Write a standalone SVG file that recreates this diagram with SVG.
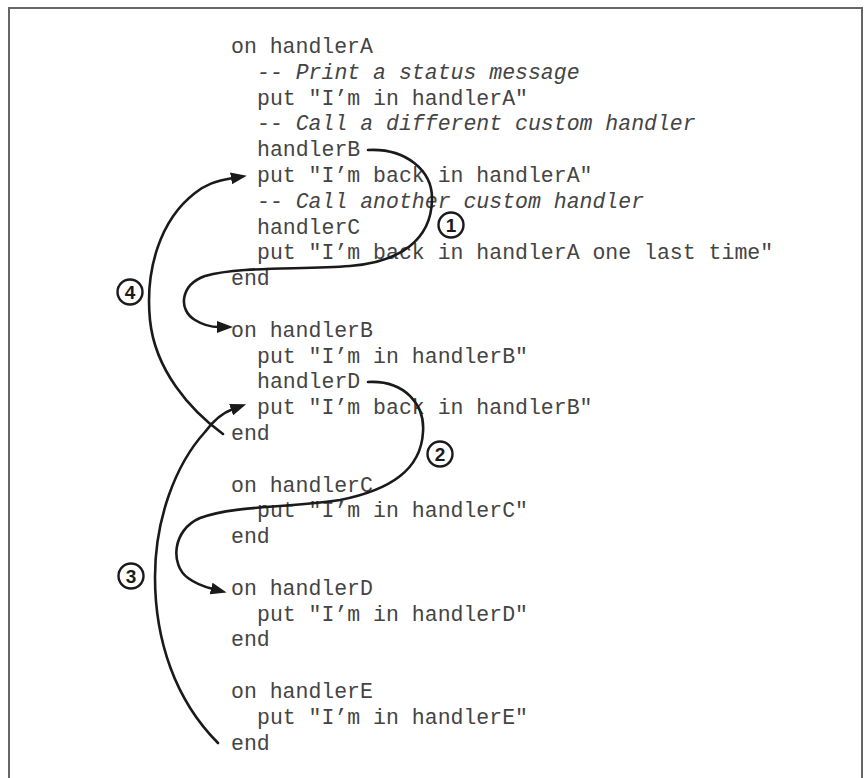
<svg xmlns="http://www.w3.org/2000/svg" width="865" height="778" viewBox="0 0 865 778">
  <style>
    .code { font-family: "Liberation Mono", "Courier New", monospace; font-size: 21.5px; fill: #444; }
    .cmt { font-style: italic; }
    .flow { fill: none; stroke: #1a1a1a; stroke-width: 2.6; stroke-linecap: round; marker-end: url(#head); }
    .badge circle { fill: #fff; stroke: #1a1a1a; stroke-width: 2.4; }
    .badge text { font-family: "Liberation Sans Narrow", "Liberation Sans", Arial, sans-serif; font-weight: bold; font-size: 19px; fill: #1a1a1a; text-anchor: middle; }
  </style>
  <defs>
    <marker id="head" viewBox="0 0 16 12" refX="2" refY="6" markerWidth="16" markerHeight="12" markerUnits="userSpaceOnUse" orient="auto">
      <path d="M0,0 L16,6 L0,12 z" fill="#1a1a1a"/>
    </marker>
  </defs>

  <rect width="865" height="778" fill="#fff"/>
  <!-- frame -->
  <path d="M9,779 V8 H862 V779" fill="none" stroke="#666" stroke-width="2"/>

  <!-- handler listing -->
  <g id="handlerA" class="code">
    <text x="231" y="53">on handlerA</text>
    <text x="257" y="78.8" class="cmt">-- Print a status message</text>
    <text x="257" y="104.6">put "I’m in handlerA"</text>
    <text x="257" y="130.4" class="cmt">-- Call a different custom handler</text>
    <text x="257" y="156.2">handlerB</text>
    <text x="257" y="182">put "I’m back in handlerA"</text>
    <text x="257" y="207.8" class="cmt">-- Call another custom handler</text>
    <text x="257" y="233.6">handlerC</text>
    <text x="257" y="259.4">put "I’m back in handlerA one last time"</text>
    <text x="231" y="285.2">end</text>
  </g>
  <g id="handlerB" class="code">
    <text x="231" y="336.8">on handlerB</text>
    <text x="257" y="362.6">put "I’m in handlerB"</text>
    <text x="257" y="388.4">handlerD</text>
    <text x="257" y="414.2">put "I’m back in handlerB"</text>
    <text x="231" y="440">end</text>
  </g>
  <g id="handlerC" class="code">
    <text x="231" y="491.6">on handlerC</text>
    <text x="257" y="517.4">put "I’m in handlerC"</text>
    <text x="231" y="543.2">end</text>
  </g>
  <g id="handlerD" class="code">
    <text x="231" y="594.8">on handlerD</text>
    <text x="257" y="620.6">put "I’m in handlerD"</text>
    <text x="231" y="646.4">end</text>
  </g>
  <g id="handlerE" class="code">
    <text x="231" y="698">on handlerE</text>
    <text x="257" y="723.8">put "I’m in handlerE"</text>
    <text x="231" y="749.6">end</text>
  </g>

  <!-- call / return connectors -->
  <g id="connectors">
    <path class="flow" d="M368,150 C405,148 433,170 432,200 C431,240 400,262 350,266 C300,270 240,266 205,276 C180,285 178,310 195,320 C203,325 211,327 219,327"/>
    <path class="flow" d="M368,382 C405,380 425,405 423,432 C421,470 390,490 340,500 C290,508 235,505 200,518 C172,530 170,565 188,578 C196,584 205,587 213,589"/>
    <path class="flow" d="M218,743 C175,700 155,640 155,577 C155,520 175,465 205,432 C213,421 222,413 233,409"/>
    <path class="flow" d="M223,434 C190,410 155,370 150,320 C145,270 160,220 195,193 C205,185 215,181 233,178"/>
  </g>

  <!-- step numbers -->
  <g id="step1" class="badge"><circle cx="451" cy="225" r="12.5"/><text x="451" y="232">1</text></g>
  <g id="step2" class="badge"><circle cx="440" cy="454" r="12.5"/><text x="440" y="461">2</text></g>
  <g id="step3" class="badge"><circle cx="131" cy="576" r="12.5"/><text x="131" y="583">3</text></g>
  <g id="step4" class="badge"><circle cx="130" cy="292" r="12.5"/><text x="130" y="299">4</text></g>
</svg>
